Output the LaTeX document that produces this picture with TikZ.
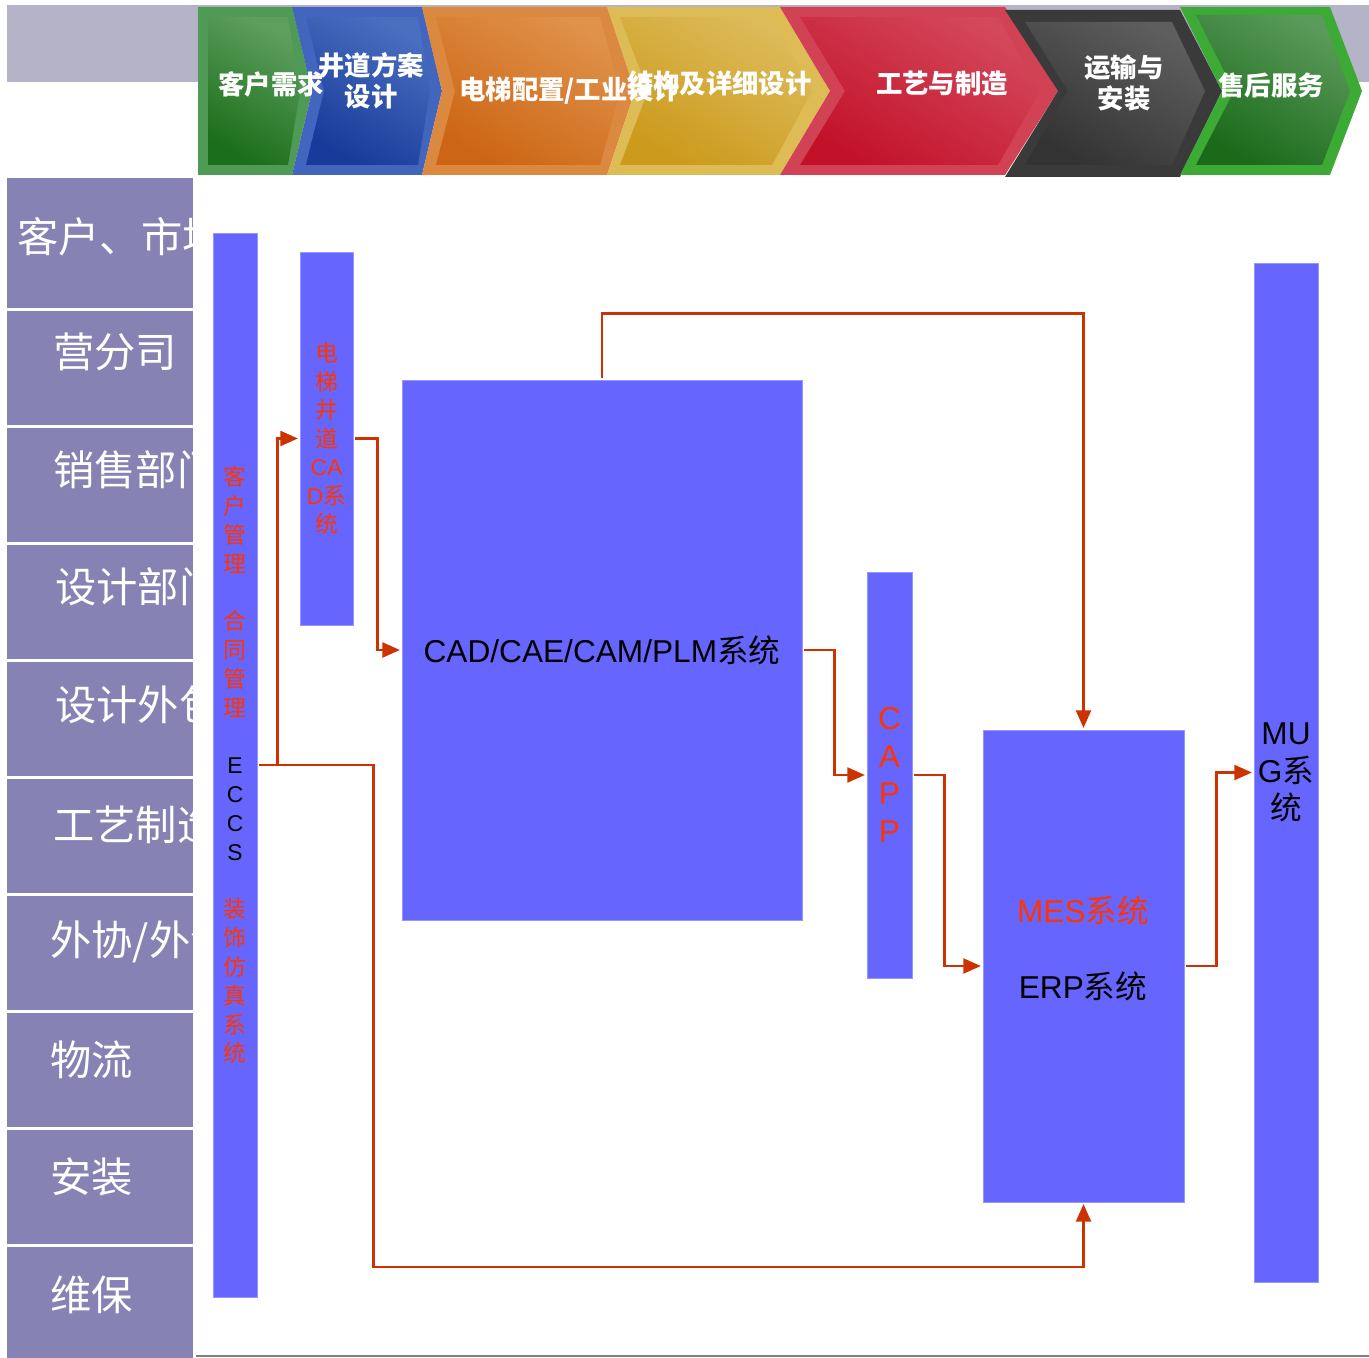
\documentclass[tikz,border=0pt]{standalone}
\usepackage{fontspec}
\setmainfont{Liberation Sans}
\newfontfamily\cjk{Noto Sans CJK SC}
\usetikzlibrary{arrows.meta}
\definecolor{topgray}{RGB}{181,179,199}
\definecolor{rowpurple}{RGB}{134,131,180}
\definecolor{sysblue}{RGB}{102,102,255}
\definecolor{sysedge}{RGB}{150,150,255}
\definecolor{linkred}{RGB}{204,51,0}
\definecolor{textred}{RGB}{255,51,0}
\definecolor{green1 edge}{RGB}{79,154,85}
\definecolor{green1 light}{RGB}{94,159,94}
\definecolor{green1 dark}{RGB}{27,110,27}
\definecolor{blue2 edge}{RGB}{66,102,190}
\definecolor{blue2 light}{RGB}{74,111,191}
\definecolor{blue2 dark}{RGB}{24,58,154}
\definecolor{orange3 edge}{RGB}{219,136,64}
\definecolor{orange3 light}{RGB}{224,145,74}
\definecolor{orange3 dark}{RGB}{204,102,20}
\definecolor{yellow4 edge}{RGB}{221,187,85}
\definecolor{yellow4 light}{RGB}{221,187,90}
\definecolor{yellow4 dark}{RGB}{204,154,28}
\definecolor{red5 edge}{RGB}{210,66,85}
\definecolor{red5 light}{RGB}{212,72,92}
\definecolor{red5 dark}{RGB}{194,18,42}
\definecolor{dark6 edge}{RGB}{58,58,58}
\definecolor{dark6 light}{RGB}{94,94,94}
\definecolor{dark6 dark}{RGB}{51,51,51}
\definecolor{green7 edge}{RGB}{61,170,53}
\definecolor{green7 light}{RGB}{90,154,90}
\definecolor{green7 dark}{RGB}{26,106,26}
\tikzset{
  sysbox/.style={fill=sysblue, draw=sysedge, line width=0.4pt, inner sep=0pt},
  link/.style={draw=linkred, line width=1.4pt, -{Triangle[length=10pt,width=8.5pt]}, shorten <=1pt, shorten >=1pt},
  rowtext/.style={anchor=west, inner sep=0pt, text=white, font=\fontsize{23.5}{28}\selectfont\cjk},
  steptext/.style={text=white, align=center, inner sep=0pt, font=\fontsize{15}{18}\selectfont\cjk\bfseries},
}
\begin{document}
\begin{tikzpicture}[x=0.02cm,y=-0.02cm]
\fill[white] (0,0) rectangle (1369,1358);
\useasboundingbox (0,0) rectangle (1369,1358);
% top band
\fill[topgray] (7,5) rectangle (1369,82);
% chevrons
\fill[green1 edge] (198,7) -- (292,7) -- (312,91) -- (292,175) -- (198,175) -- cycle;
\shade[left color=green1 light,right color=green1 dark, shading angle=-30] (208,17) -- (288,17) -- (300,91) -- (288,165) -- (208,165) -- cycle;
\fill[blue2 edge] (292,7) -- (422,7) -- (442,91) -- (422,175) -- (292,175) -- (312,91) -- cycle;
\shade[left color=blue2 light,right color=blue2 dark, shading angle=-30] (306,17) -- (418,17) -- (430,91) -- (418,165) -- (306,165) -- (324,91) -- cycle;
\fill[orange3 edge] (422,7) -- (607,7) -- (635,91) -- (607,175) -- (422,175) -- (442,91) -- cycle;
\shade[left color=orange3 light,right color=orange3 dark, shading angle=-30] (436,17) -- (600,17) -- (620,91) -- (600,165) -- (436,165) -- (455,91) -- cycle;
\fill[yellow4 edge] (607,7) -- (780,7) -- (830,91) -- (780,175) -- (607,175) -- (635,91) -- cycle;
\shade[left color=yellow4 light,right color=yellow4 dark, shading angle=-30] (620,17) -- (772,17) -- (812,91) -- (772,165) -- (620,165) -- (648,91) -- cycle;
\fill[red5 edge] (780,7) -- (1005,7) -- (1058,91) -- (1005,175) -- (780,175) -- (830,91) -- cycle;
\shade[left color=red5 light,right color=red5 dark, shading angle=-30] (800,17) -- (998,17) -- (1040,91) -- (998,165) -- (800,165) -- (845,91) -- cycle;
\fill[dark6 edge] (1005,10) -- (1180,10) -- (1222,91) -- (1180,177) -- (1005,177) -- (1058,91) -- cycle;
\shade[left color=dark6 light,right color=dark6 dark, shading angle=-30] (1025,22) -- (1172,22) -- (1205,91) -- (1172,165) -- (1025,165) -- (1068,91) -- cycle;
\fill[green7 edge] (1180,7) -- (1330,7) -- (1362,91) -- (1330,175) -- (1180,175) -- (1222,91) -- cycle;
\shade[left color=green7 light,right color=green7 dark, shading angle=-30] (1196,15) -- (1322,15) -- (1350,91) -- (1322,165) -- (1196,165) -- (1234,91) -- cycle;
% chevron labels
\node[steptext] (step1) at (271,84) {客户需求};
\node[steptext] (step2) at (371,81) {井道方案\\设计};
\node[steptext, anchor=west] (step3) at (459,91) {电梯配置/工业设计};
\node[steptext, anchor=east] (step4) at (812,83) {结构及详细设计};
\node[steptext] (step5) at (942,84) {工艺与制造};
\node[steptext] (step6) at (1124,83) {运输与\\安装};
\node[steptext] (step7) at (1271,85) {售后服务};
% departments
\fill[rowpurple] (7,178) rectangle (193,308);
\fill[rowpurple] (7,311) rectangle (193,425);
\fill[rowpurple] (7,428) rectangle (193,542);
\fill[rowpurple] (7,545) rectangle (193,659);
\fill[rowpurple] (7,662) rectangle (193,776);
\fill[rowpurple] (7,779) rectangle (193,893);
\fill[rowpurple] (7,896) rectangle (193,1010);
\fill[rowpurple] (7,1013) rectangle (193,1127);
\fill[rowpurple] (7,1130) rectangle (193,1244);
\fill[rowpurple] (7,1247) rectangle (193,1358);
\begin{scope}
\clip (7,170) rectangle (193,1358);
\node[rowtext] (dept1) at (17,237) {客户、市场};
\node[rowtext] (dept2) at (53,352) {营分司};
\node[rowtext] (dept3) at (53,470) {销售部门};
\node[rowtext] (dept4) at (55,587) {设计部门};
\node[rowtext] (dept5) at (55,705) {设计外包};
\node[rowtext] (dept6) at (53,825) {工艺制造};
\node[rowtext] (dept7) at (50,942) {外协/外包};
\node[rowtext] (dept8) at (50,1060) {物流};
\node[rowtext] (dept9) at (50,1177) {安装};
\node[rowtext] (dept10) at (50,1295) {维保};
\end{scope}
% systems
\node[sysbox, minimum width=0.88cm, minimum height=21.28cm, align=center, text=textred, font=\fontsize{13}{16.4}\selectfont\cjk] (eccs) at (235,765)
  {客\\户\\管\\理\\~\\合\\同\\管\\理\\~\\\textcolor{black}{\rmfamily E}\\\textcolor{black}{\rmfamily C}\\\textcolor{black}{\rmfamily C}\\\textcolor{black}{\rmfamily S}\\~\\装\\饰\\仿\\真\\系\\统};
\node[sysbox, minimum width=1.06cm, minimum height=7.46cm, align=center, text=textred, font=\fontsize{13}{16.2}\selectfont\cjk] (cadbar) at (326.5,438.5)
  {电\\梯\\井\\道\\{\rmfamily CA}\\{\rmfamily D}系\\统};
\node[sysbox, minimum width=8cm, minimum height=10.8cm, font=\fontsize{18}{21.5}\selectfont] (cadsys) at (602,650) {CAD/CAE/CAM/PLM{\cjk 系统}};
\node[sysbox, minimum width=0.9cm, minimum height=8.12cm, align=center, text=textred, font=\fontsize{18}{21.5}\selectfont] (capp) at (889.5,775) {C\\A\\P\\P};
\node[sysbox, minimum width=4.02cm, minimum height=9.44cm] (meserp) at (1083.5,966) {};
\node[text=textred, font=\fontsize{18}{21.5}\selectfont] (mes) at (1083,910) {MES{\cjk 系统}};
\node[font=\fontsize{18}{21.5}\selectfont] (erp) at (1083,986) {ERP{\cjk 系统}};
\node[sysbox, minimum width=1.28cm, minimum height=20.38cm, align=center, font=\fontsize{18}{21.5}\selectfont] (mug) at (1286,772.5) {MU\\G{\cjk 系}\\{\cjk 统}};
% links
\draw[link] (eccs.east) -- ++(20,0) |- (cadbar.west);
\draw[link] (cadbar.east) -- ++(24,0) |- (cadsys.west);
\draw[link] (cadsys.north) -- ++(0,-66) -| (meserp.north);
\draw[link] (cadsys.east) -- ++(32,0) |- (capp.west);
\draw[link] (capp.east) -- ++(32,0) |- (meserp.west);
\draw[link] (meserp.east) -- ++(32,0) |- (mug.west);
\draw[link] (eccs.east) -- ++(116,0) -- ++(0,502) -| (meserp.south);
% bottom rule
\draw[gray, line width=0.8pt] (196,1356) -- (1369,1356);
\end{tikzpicture}
\end{document}
